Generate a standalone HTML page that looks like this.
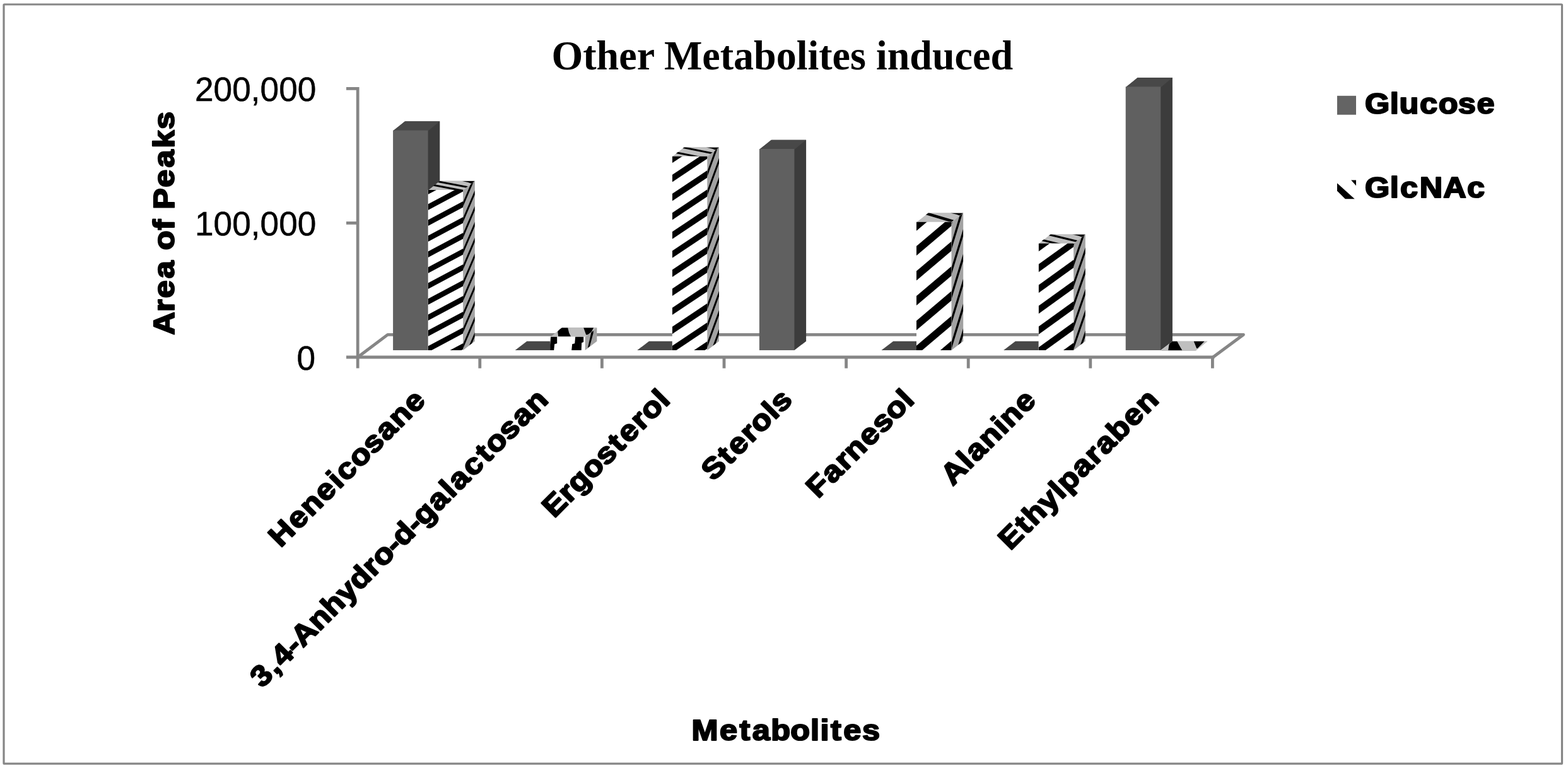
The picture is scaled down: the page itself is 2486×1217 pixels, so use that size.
<!DOCTYPE html>
<html lang="en">
<head>
<meta charset="utf-8">
<title>Other Metabolites induced</title>
<style>
html,body{margin:0;padding:0;background:#fff;}
body{width:2486px;height:1217px;overflow:hidden;}
svg{display:block;}
</style>
</head>
<body>
<svg width="2486" height="1217" viewBox="0 0 2486 1217">
<rect x="0" y="0" width="2486" height="1217" fill="#fff"/>
<rect x="6" y="7" width="2470.5" height="1203.2" rx="1" fill="none" stroke="#868686" stroke-width="3.2"/>
<g fill="none" stroke="#868686" stroke-width="4.8" stroke-linejoin="round">
<polyline points="567.2,566 614.6,530.3 1971.5,530.3 1923.2,566"/>
<line x1="567.2" y1="138.1" x2="567.2" y2="583.6"/>
<line x1="549" y1="566" x2="1925.4" y2="566"/>
<line x1="549" y1="140.4" x2="567.2" y2="140.4"/>
<line x1="549" y1="353.4" x2="567.2" y2="353.4"/>
<line x1="760.8" y1="566" x2="760.8" y2="583.6"/>
<line x1="954.4" y1="566" x2="954.4" y2="583.6"/>
<line x1="1148" y1="566" x2="1148" y2="583.6"/>
<line x1="1341.6" y1="566" x2="1341.6" y2="583.6"/>
<line x1="1535.2" y1="566" x2="1535.2" y2="583.6"/>
<line x1="1728.8" y1="566" x2="1728.8" y2="583.6"/>
<line x1="1922.4" y1="566" x2="1922.4" y2="583.6"/>
</g>
<polygon fill="#3c3c3c" points="624.1,555 678.6,555 697.3,540.7 697.3,192.3 642.8,192.3 624.1,206.6"/>
<polygon fill="#484848" points="623.1,207.6 678.6,207.6 697.3,192.3 641.8,192.3"/>
<rect fill="#606060" x="623.1" y="206.6" width="55.5" height="348.4"/>
<clipPath id="cf1"><polygon points="678.6,301 734.1,301 734.1,555 678.6,555"/></clipPath>
<clipPath id="cs1"><polygon points="733.1,555 752.8,540.7 752.8,286.7 733.1,301.8"/></clipPath>
<clipPath id="ct1"><polygon points="678.6,301 734.1,301 752.8,286.7 697.3,286.7"/></clipPath>
<polygon fill="#a2a2a2" points="679.6,555 734.1,555 752.8,540.7 752.8,286.7 698.3,286.7 679.6,301"/>
<g clip-path="url(#cs1)" fill="#000">
<polygon points="732.9,623.05 752.8,576.44 752.8,583.56 732.9,630.17"/>
<polygon points="732.9,598.05 752.8,551.44 752.8,558.56 732.9,605.17"/>
<polygon points="732.9,573.05 752.8,526.44 752.8,533.56 732.9,580.17"/>
<polygon points="732.9,548.05 752.8,501.44 752.8,508.56 732.9,555.17"/>
<polygon points="732.9,523.05 752.8,476.44 752.8,483.56 732.9,530.17"/>
<polygon points="732.9,498.05 752.8,451.44 752.8,458.56 732.9,505.17"/>
<polygon points="732.9,473.05 752.8,426.44 752.8,433.56 732.9,480.17"/>
<polygon points="732.9,448.05 752.8,401.44 752.8,408.56 732.9,455.17"/>
<polygon points="732.9,423.05 752.8,376.44 752.8,383.56 732.9,430.17"/>
<polygon points="732.9,398.05 752.8,351.44 752.8,358.56 732.9,405.17"/>
<polygon points="732.9,373.05 752.8,326.44 752.8,333.56 732.9,380.17"/>
<polygon points="732.9,348.05 752.8,301.44 752.8,308.56 732.9,355.17"/>
<polygon points="732.9,323.05 752.8,276.44 752.8,283.56 732.9,330.17"/>
<polygon points="732.9,298.05 752.8,251.44 752.8,258.56 732.9,305.17"/>
<polygon points="732.9,273.05 752.8,226.44 752.8,233.56 732.9,280.17"/>
<polygon points="732.9,248.05 752.8,201.44 752.8,208.56 732.9,255.17"/>
</g>
<polygon fill="#bfbfbf" points="678.6,302 734.1,302 752.8,286.7 697.3,286.7"/>
<g clip-path="url(#ct1)" fill="#000">
<polygon points="673.6,289.25 758.6,305.4 758.6,308.4 673.6,292.25"/>
<polygon points="673.6,282.25 758.6,298.4 758.6,301.4 673.6,285.25"/>
<polygon points="732.1,286.7 752.8,286.7 748.8,291.5 742.1,289"/>
</g>
<polygon fill="#fff" points="678.6,301 734.1,301 734.1,555 678.6,555"/>
<g clip-path="url(#cf1)" fill="#000">
<polygon points="678.6,623.55 734.1,594.05 734.1,603.55 678.6,633.05"/>
<polygon points="678.6,598.55 734.1,569.05 734.1,578.55 678.6,608.05"/>
<polygon points="678.6,573.55 734.1,544.05 734.1,553.55 678.6,583.05"/>
<polygon points="678.6,548.55 734.1,519.05 734.1,528.55 678.6,558.05"/>
<polygon points="678.6,523.55 734.1,494.05 734.1,503.55 678.6,533.05"/>
<polygon points="678.6,498.55 734.1,469.05 734.1,478.55 678.6,508.05"/>
<polygon points="678.6,473.55 734.1,444.05 734.1,453.55 678.6,483.05"/>
<polygon points="678.6,448.55 734.1,419.05 734.1,428.55 678.6,458.05"/>
<polygon points="678.6,423.55 734.1,394.05 734.1,403.55 678.6,433.05"/>
<polygon points="678.6,398.55 734.1,369.05 734.1,378.55 678.6,408.05"/>
<polygon points="678.6,373.55 734.1,344.05 734.1,353.55 678.6,383.05"/>
<polygon points="678.6,348.55 734.1,319.05 734.1,328.55 678.6,358.05"/>
<polygon points="678.6,323.55 734.1,294.05 734.1,303.55 678.6,333.05"/>
<polygon points="678.6,298.55 734.1,269.05 734.1,278.55 678.6,308.05"/>
<polygon points="678.6,273.55 734.1,244.05 734.1,253.55 678.6,283.05"/>
</g>
<polygon fill="#484848" points="816.7,555 873.2,555 890.9,540.7 835.4,540.7"/>
<clipPath id="cf2"><polygon points="872.2,533.5 927.7,533.5 927.7,555 872.2,555"/></clipPath>
<clipPath id="cs2"><polygon points="926.7,555 946.4,540.7 946.4,519.2 926.7,534.3"/></clipPath>
<clipPath id="ct2"><polygon points="872.2,533.5 927.7,533.5 946.4,519.2 890.9,519.2"/></clipPath>
<polygon fill="#a2a2a2" points="873.2,555 927.7,555 946.4,540.7 946.4,519.2 891.9,519.2 873.2,533.5"/>
<g clip-path="url(#cs2)" fill="#000">
<polygon points="931.7,552 934.7,550 940.7,527.5 940.7,521.5 937.7,525.5"/>
</g>
<polygon fill="#bfbfbf" points="872.2,534.5 927.7,534.5 946.4,519.2 890.9,519.2"/>
<g clip-path="url(#ct2)" fill="#000">
<polygon points="885.2,533.5 905.2,533.5 902.2,527.5 900.2,519.2 888.2,519.2 884.2,525.5"/>
<polygon points="929.2,530.5 935.2,530.5 941.2,519.2 925.2,519.2"/>
</g>
<polygon fill="#fff" points="872.2,533.5 927.7,533.5 927.7,555 872.2,555"/>
<g clip-path="url(#cf2)" fill="#000">
<polygon points="871.2,555 878.2,555 879.2,545.33 883.2,544.25 883.2,533.5 873.2,533.5"/>
<polygon points="906.2,555 921.7,555 922.2,543.17 925.2,542.1 925.2,533.5 912.2,533.5 911.2,544.25 907.2,545.33"/>
</g>
<polygon fill="#484848" points="1010.3,555 1066.8,555 1084.5,540.7 1029,540.7"/>
<clipPath id="cf3"><polygon points="1065.8,247.8 1121.3,247.8 1121.3,555 1065.8,555"/></clipPath>
<clipPath id="cs3"><polygon points="1120.3,555 1140,540.7 1140,233.5 1120.3,248.6"/></clipPath>
<clipPath id="ct3"><polygon points="1065.8,247.8 1121.3,247.8 1140,233.5 1084.5,233.5"/></clipPath>
<polygon fill="#a2a2a2" points="1066.8,555 1121.3,555 1140,540.7 1140,233.5 1085.5,233.5 1066.8,247.8"/>
<g clip-path="url(#cs3)" fill="#000">
<polygon points="1120.1,636.02 1140,581.43 1140,589.98 1120.1,644.57"/>
<polygon points="1120.1,605.92 1140,551.33 1140,559.88 1120.1,614.47"/>
<polygon points="1120.1,575.82 1140,521.23 1140,529.78 1120.1,584.37"/>
<polygon points="1120.1,545.72 1140,491.13 1140,499.68 1120.1,554.27"/>
<polygon points="1120.1,515.62 1140,461.03 1140,469.57 1120.1,524.17"/>
<polygon points="1120.1,485.52 1140,430.93 1140,439.47 1120.1,494.07"/>
<polygon points="1120.1,455.42 1140,400.82 1140,409.37 1120.1,463.97"/>
<polygon points="1120.1,425.32 1140,370.72 1140,379.27 1120.1,433.87"/>
<polygon points="1120.1,395.22 1140,340.62 1140,349.17 1120.1,403.77"/>
<polygon points="1120.1,365.12 1140,310.52 1140,319.07 1120.1,373.67"/>
<polygon points="1120.1,335.02 1140,280.42 1140,288.97 1120.1,343.57"/>
<polygon points="1120.1,304.92 1140,250.32 1140,258.87 1120.1,313.47"/>
<polygon points="1120.1,274.82 1140,220.22 1140,228.77 1120.1,283.37"/>
<polygon points="1120.1,244.72 1140,190.12 1140,198.67 1120.1,253.27"/>
<polygon points="1120.1,214.62 1140,160.02 1140,168.57 1120.1,223.17"/>
<polygon points="1120.1,184.52 1140,129.92 1140,138.47 1120.1,193.07"/>
</g>
<polygon fill="#bfbfbf" points="1065.8,248.8 1121.3,248.8 1140,233.5 1084.5,233.5"/>
<g clip-path="url(#ct3)" fill="#000">
<polygon points="1060.8,237.9 1145.8,254.9 1145.8,257.9 1060.8,240.9"/>
<polygon points="1060.8,227.7 1145.8,244.7 1145.8,247.7 1060.8,230.7"/>
<polygon points="1119.3,233.5 1140,233.5 1136,238.3 1129.3,235.8"/>
</g>
<polygon fill="#fff" points="1065.8,247.8 1121.3,247.8 1121.3,555 1065.8,555"/>
<g clip-path="url(#cf3)" fill="#000">
<polygon points="1065.8,638.2 1121.3,601.2 1121.3,612.6 1065.8,649.6"/>
<polygon points="1065.8,608.1 1121.3,571.1 1121.3,582.5 1065.8,619.5"/>
<polygon points="1065.8,578 1121.3,541 1121.3,552.4 1065.8,589.4"/>
<polygon points="1065.8,547.9 1121.3,510.9 1121.3,522.3 1065.8,559.3"/>
<polygon points="1065.8,517.8 1121.3,480.8 1121.3,492.2 1065.8,529.2"/>
<polygon points="1065.8,487.7 1121.3,450.7 1121.3,462.1 1065.8,499.1"/>
<polygon points="1065.8,457.6 1121.3,420.6 1121.3,432 1065.8,469"/>
<polygon points="1065.8,427.5 1121.3,390.5 1121.3,401.9 1065.8,438.9"/>
<polygon points="1065.8,397.4 1121.3,360.4 1121.3,371.8 1065.8,408.8"/>
<polygon points="1065.8,367.3 1121.3,330.3 1121.3,341.7 1065.8,378.7"/>
<polygon points="1065.8,337.2 1121.3,300.2 1121.3,311.6 1065.8,348.6"/>
<polygon points="1065.8,307.1 1121.3,270.1 1121.3,281.5 1065.8,318.5"/>
<polygon points="1065.8,277 1121.3,240 1121.3,251.4 1065.8,288.4"/>
<polygon points="1065.8,246.9 1121.3,209.9 1121.3,221.3 1065.8,258.3"/>
<polygon points="1065.8,216.8 1121.3,179.8 1121.3,191.2 1065.8,228.2"/>
</g>
<polygon fill="#3c3c3c" points="1204.9,555 1259.4,555 1278.1,540.7 1278.1,221.7 1223.6,221.7 1204.9,236"/>
<polygon fill="#484848" points="1203.9,237 1259.4,237 1278.1,221.7 1222.6,221.7"/>
<rect fill="#606060" x="1203.9" y="236" width="55.5" height="319"/>
<polygon fill="#484848" points="1397.5,555 1454,555 1471.7,540.7 1416.2,540.7"/>
<clipPath id="cf4"><polygon points="1453,351.7 1508.5,351.7 1508.5,555 1453,555"/></clipPath>
<clipPath id="cs4"><polygon points="1507.5,555 1527.2,540.7 1527.2,337.4 1507.5,352.5"/></clipPath>
<clipPath id="ct4"><polygon points="1453,351.7 1508.5,351.7 1527.2,337.4 1471.7,337.4"/></clipPath>
<polygon fill="#a2a2a2" points="1454,555 1508.5,555 1527.2,540.7 1527.2,337.4 1472.7,337.4 1454,351.7"/>
<g clip-path="url(#cs4)" fill="#000">
<polygon points="1507.3,664.11 1527.2,598.88 1527.2,610.12 1507.3,675.36"/>
<polygon points="1507.3,624.71 1527.2,559.48 1527.2,570.73 1507.3,635.96"/>
<polygon points="1507.3,585.31 1527.2,520.08 1527.2,531.33 1507.3,596.56"/>
<polygon points="1507.3,545.91 1527.2,480.68 1527.2,491.93 1507.3,557.16"/>
<polygon points="1507.3,506.51 1527.2,441.28 1527.2,452.53 1507.3,517.76"/>
<polygon points="1507.3,467.11 1527.2,401.88 1527.2,413.13 1507.3,478.36"/>
<polygon points="1507.3,427.71 1527.2,362.48 1527.2,373.73 1507.3,438.96"/>
<polygon points="1507.3,388.31 1527.2,323.08 1527.2,334.33 1507.3,399.56"/>
<polygon points="1507.3,348.91 1527.2,283.68 1527.2,294.93 1507.3,360.16"/>
<polygon points="1507.3,309.51 1527.2,244.28 1527.2,255.53 1507.3,320.76"/>
<polygon points="1507.3,270.11 1527.2,204.88 1527.2,216.13 1507.3,281.36"/>
</g>
<polygon fill="#bfbfbf" points="1453,352.7 1508.5,352.7 1527.2,337.4 1471.7,337.4"/>
<g clip-path="url(#ct4)" fill="#000">
<polygon points="1448,329.82 1533,354.98 1533,359.58 1448,334.42"/>
<polygon points="1506.5,337.4 1527.2,337.4 1523.2,342.2 1516.5,339.7"/>
</g>
<polygon fill="#fff" points="1453,351.7 1508.5,351.7 1508.5,555 1453,555"/>
<g clip-path="url(#cf4)" fill="#000">
<polygon points="1453,665.9 1508.5,618.9 1508.5,633.9 1453,680.9"/>
<polygon points="1453,626.5 1508.5,579.5 1508.5,594.5 1453,641.5"/>
<polygon points="1453,587.1 1508.5,540.1 1508.5,555.1 1453,602.1"/>
<polygon points="1453,547.7 1508.5,500.7 1508.5,515.7 1453,562.7"/>
<polygon points="1453,508.3 1508.5,461.3 1508.5,476.3 1453,523.3"/>
<polygon points="1453,468.9 1508.5,421.9 1508.5,436.9 1453,483.9"/>
<polygon points="1453,429.5 1508.5,382.5 1508.5,397.5 1453,444.5"/>
<polygon points="1453,390.1 1508.5,343.1 1508.5,358.1 1453,405.1"/>
<polygon points="1453,350.7 1508.5,303.7 1508.5,318.7 1453,365.7"/>
<polygon points="1453,311.3 1508.5,264.3 1508.5,279.3 1453,326.3"/>
</g>
<polygon fill="#484848" points="1591.1,555 1647.6,555 1665.3,540.7 1609.8,540.7"/>
<clipPath id="cf5"><polygon points="1646.6,385.7 1702.1,385.7 1702.1,555 1646.6,555"/></clipPath>
<clipPath id="cs5"><polygon points="1701.1,555 1720.8,540.7 1720.8,371.4 1701.1,386.5"/></clipPath>
<clipPath id="ct5"><polygon points="1646.6,385.7 1702.1,385.7 1720.8,371.4 1665.3,371.4"/></clipPath>
<polygon fill="#a2a2a2" points="1647.6,555 1702.1,555 1720.8,540.7 1720.8,371.4 1666.3,371.4 1647.6,385.7"/>
<g clip-path="url(#cs5)" fill="#000">
<polygon points="1700.9,647.1 1720.8,589.31 1720.8,598.69 1700.9,656.47"/>
<polygon points="1700.9,614.2 1720.8,556.41 1720.8,565.79 1700.9,623.57"/>
<polygon points="1700.9,581.3 1720.8,523.51 1720.8,532.89 1700.9,590.67"/>
<polygon points="1700.9,548.4 1720.8,490.61 1720.8,499.99 1700.9,557.77"/>
<polygon points="1700.9,515.5 1720.8,457.71 1720.8,467.09 1700.9,524.87"/>
<polygon points="1700.9,482.6 1720.8,424.81 1720.8,434.19 1700.9,491.97"/>
<polygon points="1700.9,449.7 1720.8,391.91 1720.8,401.29 1700.9,459.07"/>
<polygon points="1700.9,416.8 1720.8,359.01 1720.8,368.39 1700.9,426.17"/>
<polygon points="1700.9,383.9 1720.8,326.11 1720.8,335.49 1700.9,393.27"/>
<polygon points="1700.9,351 1720.8,293.21 1720.8,302.59 1700.9,360.37"/>
<polygon points="1700.9,318.1 1720.8,260.31 1720.8,269.69 1700.9,327.47"/>
</g>
<polygon fill="#bfbfbf" points="1646.6,386.7 1702.1,386.7 1720.8,371.4 1665.3,371.4"/>
<g clip-path="url(#ct5)" fill="#000">
<polygon points="1641.6,364.85 1726.6,385.25 1726.6,388.55 1641.6,368.15"/>
<polygon points="1641.6,376.25 1726.6,396.65 1726.6,399.95 1641.6,379.55"/>
<polygon points="1700.1,371.4 1720.8,371.4 1716.8,376.2 1710.1,373.7"/>
</g>
<polygon fill="#fff" points="1646.6,385.7 1702.1,385.7 1702.1,555 1646.6,555"/>
<g clip-path="url(#cf5)" fill="#000">
<polygon points="1646.6,649.15 1702.1,609.15 1702.1,621.65 1646.6,661.65"/>
<polygon points="1646.6,616.25 1702.1,576.25 1702.1,588.75 1646.6,628.75"/>
<polygon points="1646.6,583.35 1702.1,543.35 1702.1,555.85 1646.6,595.85"/>
<polygon points="1646.6,550.45 1702.1,510.45 1702.1,522.95 1646.6,562.95"/>
<polygon points="1646.6,517.55 1702.1,477.55 1702.1,490.05 1646.6,530.05"/>
<polygon points="1646.6,484.65 1702.1,444.65 1702.1,457.15 1646.6,497.15"/>
<polygon points="1646.6,451.75 1702.1,411.75 1702.1,424.25 1646.6,464.25"/>
<polygon points="1646.6,418.85 1702.1,378.85 1702.1,391.35 1646.6,431.35"/>
<polygon points="1646.6,385.95 1702.1,345.95 1702.1,358.45 1646.6,398.45"/>
<polygon points="1646.6,353.05 1702.1,313.05 1702.1,325.55 1646.6,365.55"/>
</g>
<clipPath id="cf6"><polygon points="1840.2,555 1895.7,555 1895.7,555 1840.2,555"/></clipPath>
<clipPath id="cs6"><polygon points="1894.7,555 1914.4,540.7 1914.4,540.7 1894.7,555.8"/></clipPath>
<clipPath id="ct6"><polygon points="1840.2,555 1895.7,555 1914.4,540.7 1858.9,540.7"/></clipPath>
<polygon fill="#a2a2a2" points="1841.2,555 1895.7,555 1914.4,540.7 1914.4,540.7 1859.9,540.7 1841.2,555"/>
<polygon fill="#bfbfbf" points="1840.2,556 1895.7,556 1914.4,540.7 1858.9,540.7"/>
<g clip-path="url(#ct6)" fill="#000">
<polygon points="1852.2,555 1874.2,555 1871.2,550 1866.2,540.7 1855.2,540.7 1853.2,548"/>
<polygon points="1897.2,552 1898.7,552 1909.7,540.7 1892.7,540.7"/>
</g>
<polygon fill="#3c3c3c" points="1785.7,555 1840.2,555 1858.9,540.7 1858.9,123.1 1804.4,123.1 1785.7,137.4"/>
<polygon fill="#484848" points="1784.7,138.4 1840.2,138.4 1858.9,123.1 1803.4,123.1"/>
<rect fill="#606060" x="1784.7" y="137.4" width="55.5" height="417.6"/>
<text x="874.5" y="110" font-family="'Liberation Serif', serif" font-weight="bold" font-size="65" textLength="731.5" lengthAdjust="spacingAndGlyphs" fill="#000">Other Metabolites induced</text>
<text x="501.3" y="160.2" text-anchor="end" font-family="'Liberation Sans', sans-serif" font-size="53.2" fill="#000" stroke="#000" stroke-width="0.5">200,000</text>
<text x="501.3" y="373.2" text-anchor="end" font-family="'Liberation Sans', sans-serif" font-size="53.2" fill="#000" stroke="#000" stroke-width="0.5">100,000</text>
<text x="500.2" y="586" text-anchor="end" font-family="'Liberation Sans', sans-serif" font-size="53.2" fill="#000" stroke="#000" stroke-width="0.5">0</text>
<text x="-0.12 33.65 53.48 81.94 109.71 123.33 152.29 168.97 182.46 214.65 243.11 271.56 298.82" y="0" transform="translate(276 530.6) rotate(-90) scale(1.09 1)" font-family="'Liberation Sans', sans-serif" font-weight="bold" font-size="46.3" fill="#000" stroke="#000" stroke-width="2.2" stroke-linejoin="round">Area of Peaks</text>
<text x="0.85 41.62 70.49 89.02 116.21 144.66 173.7 187.91 203.2 221.74 249" y="0" transform="translate(1095.6 1172.6) rotate(0) scale(1.09 1)" font-family="'Liberation Sans', sans-serif" font-weight="bold" font-size="46.3" fill="#000" stroke="#000" stroke-width="2.2" stroke-linejoin="round">Metabolites</text>
<text x="-0.24 36.21 49.83 79.55 106.74 135.26 162.52" y="0" transform="translate(2164.3 179.8) rotate(0) scale(1.09 1)" font-family="'Liberation Sans', sans-serif" font-weight="bold" font-size="46.3" fill="#000" stroke="#000" stroke-width="2.2" stroke-linejoin="round">Glucose</text>
<text x="-0.24 36.21 51.09 79.25 113.61 148.27" y="0" transform="translate(2164.3 313.2) rotate(0) scale(1.09 1)" font-family="'Liberation Sans', sans-serif" font-weight="bold" font-size="46.3" fill="#000" stroke="#000" stroke-width="2.2" stroke-linejoin="round">GlcNAc</text>
<rect x="2120" y="151.8" width="30" height="30" fill="#646464"/>
<clipPath id="lg"><rect x="2120" y="285.3" width="30" height="30.2"/></clipPath>
<g clip-path="url(#lg)" fill="#000"><polygon points="2119,289.3 2120,290.2 2148,315.6 2133,315.6 2119,301.6"/><polygon points="2142,285.2 2150.2,285.2 2150.2,294.5"/></g>
<text x="1.05 36.89 64.08 93.8 121.57 136.46 163.65 192.17 219.43 246.62 276.34" y="0" transform="translate(443.82 869.68) rotate(-45) scale(1.09 1)" font-family="'Liberation Sans', sans-serif" font-weight="bold" font-size="46.3" fill="#000" stroke="#000" stroke-width="2.2" stroke-linejoin="round">Heneicosane</text>
<text x="1.35 29.13 44.01 70.51 85.2 118.6 147.05 175.58 201.57 230.4 248.97 276.73 291.63 319.39 334.29 364.01 391.78 406.67 435.12 463.99 481.26 509.78 537.04 564.23" y="0" transform="translate(414.56 1092.54) rotate(-45) scale(1.09 1)" font-family="'Liberation Sans', sans-serif" font-weight="bold" font-size="46.3" fill="#000" stroke="#000" stroke-width="2.2" stroke-linejoin="round">3,4-Anhydro-d-galactosan</text>
<text x="-0.04 31.26 49.83 78.28 106.81 134.48 153.01 180.57 199.14 228.18" y="0" transform="translate(878.6 822.1) rotate(-45) scale(1.09 1)" font-family="'Liberation Sans', sans-serif" font-weight="bold" font-size="46.3" fill="#000" stroke="#000" stroke-width="2.2" stroke-linejoin="round">Ergosterol</text>
<text x="-0.04 32.56 51.09 78.66 97.23 126.26 139.96" y="0" transform="translate(1130.66 763.64) rotate(-45) scale(1.09 1)" font-family="'Liberation Sans', sans-serif" font-weight="bold" font-size="46.3" fill="#000" stroke="#000" stroke-width="2.2" stroke-linejoin="round">Sterols</text>
<text x="0.09 29.81 57.37 75.94 105.66 132.92 158.91 187.95" y="0" transform="translate(1296.81 791.09) rotate(-45) scale(1.09 1)" font-family="'Liberation Sans', sans-serif" font-weight="bold" font-size="46.3" fill="#000" stroke="#000" stroke-width="2.2" stroke-linejoin="round">Farnesol</text>
<text x="-0.12 33.86 48.75 75.94 104.98 118.6 148.32" y="0" transform="translate(1510.5 771) rotate(-45) scale(1.09 1)" font-family="'Liberation Sans', sans-serif" font-weight="bold" font-size="46.3" fill="#000" stroke="#000" stroke-width="2.2" stroke-linejoin="round">Alanine</text>
<text x="-0.04 32.56 49.83 78.35 104.93 118.56 148.27 175.84 195.67 222.86 252.58 279.77" y="0" transform="translate(1601.8 873.3) rotate(-45) scale(1.09 1)" font-family="'Liberation Sans', sans-serif" font-weight="bold" font-size="46.3" fill="#000" stroke="#000" stroke-width="2.2" stroke-linejoin="round">Ethylparaben</text>
</svg>
</body>
</html>
